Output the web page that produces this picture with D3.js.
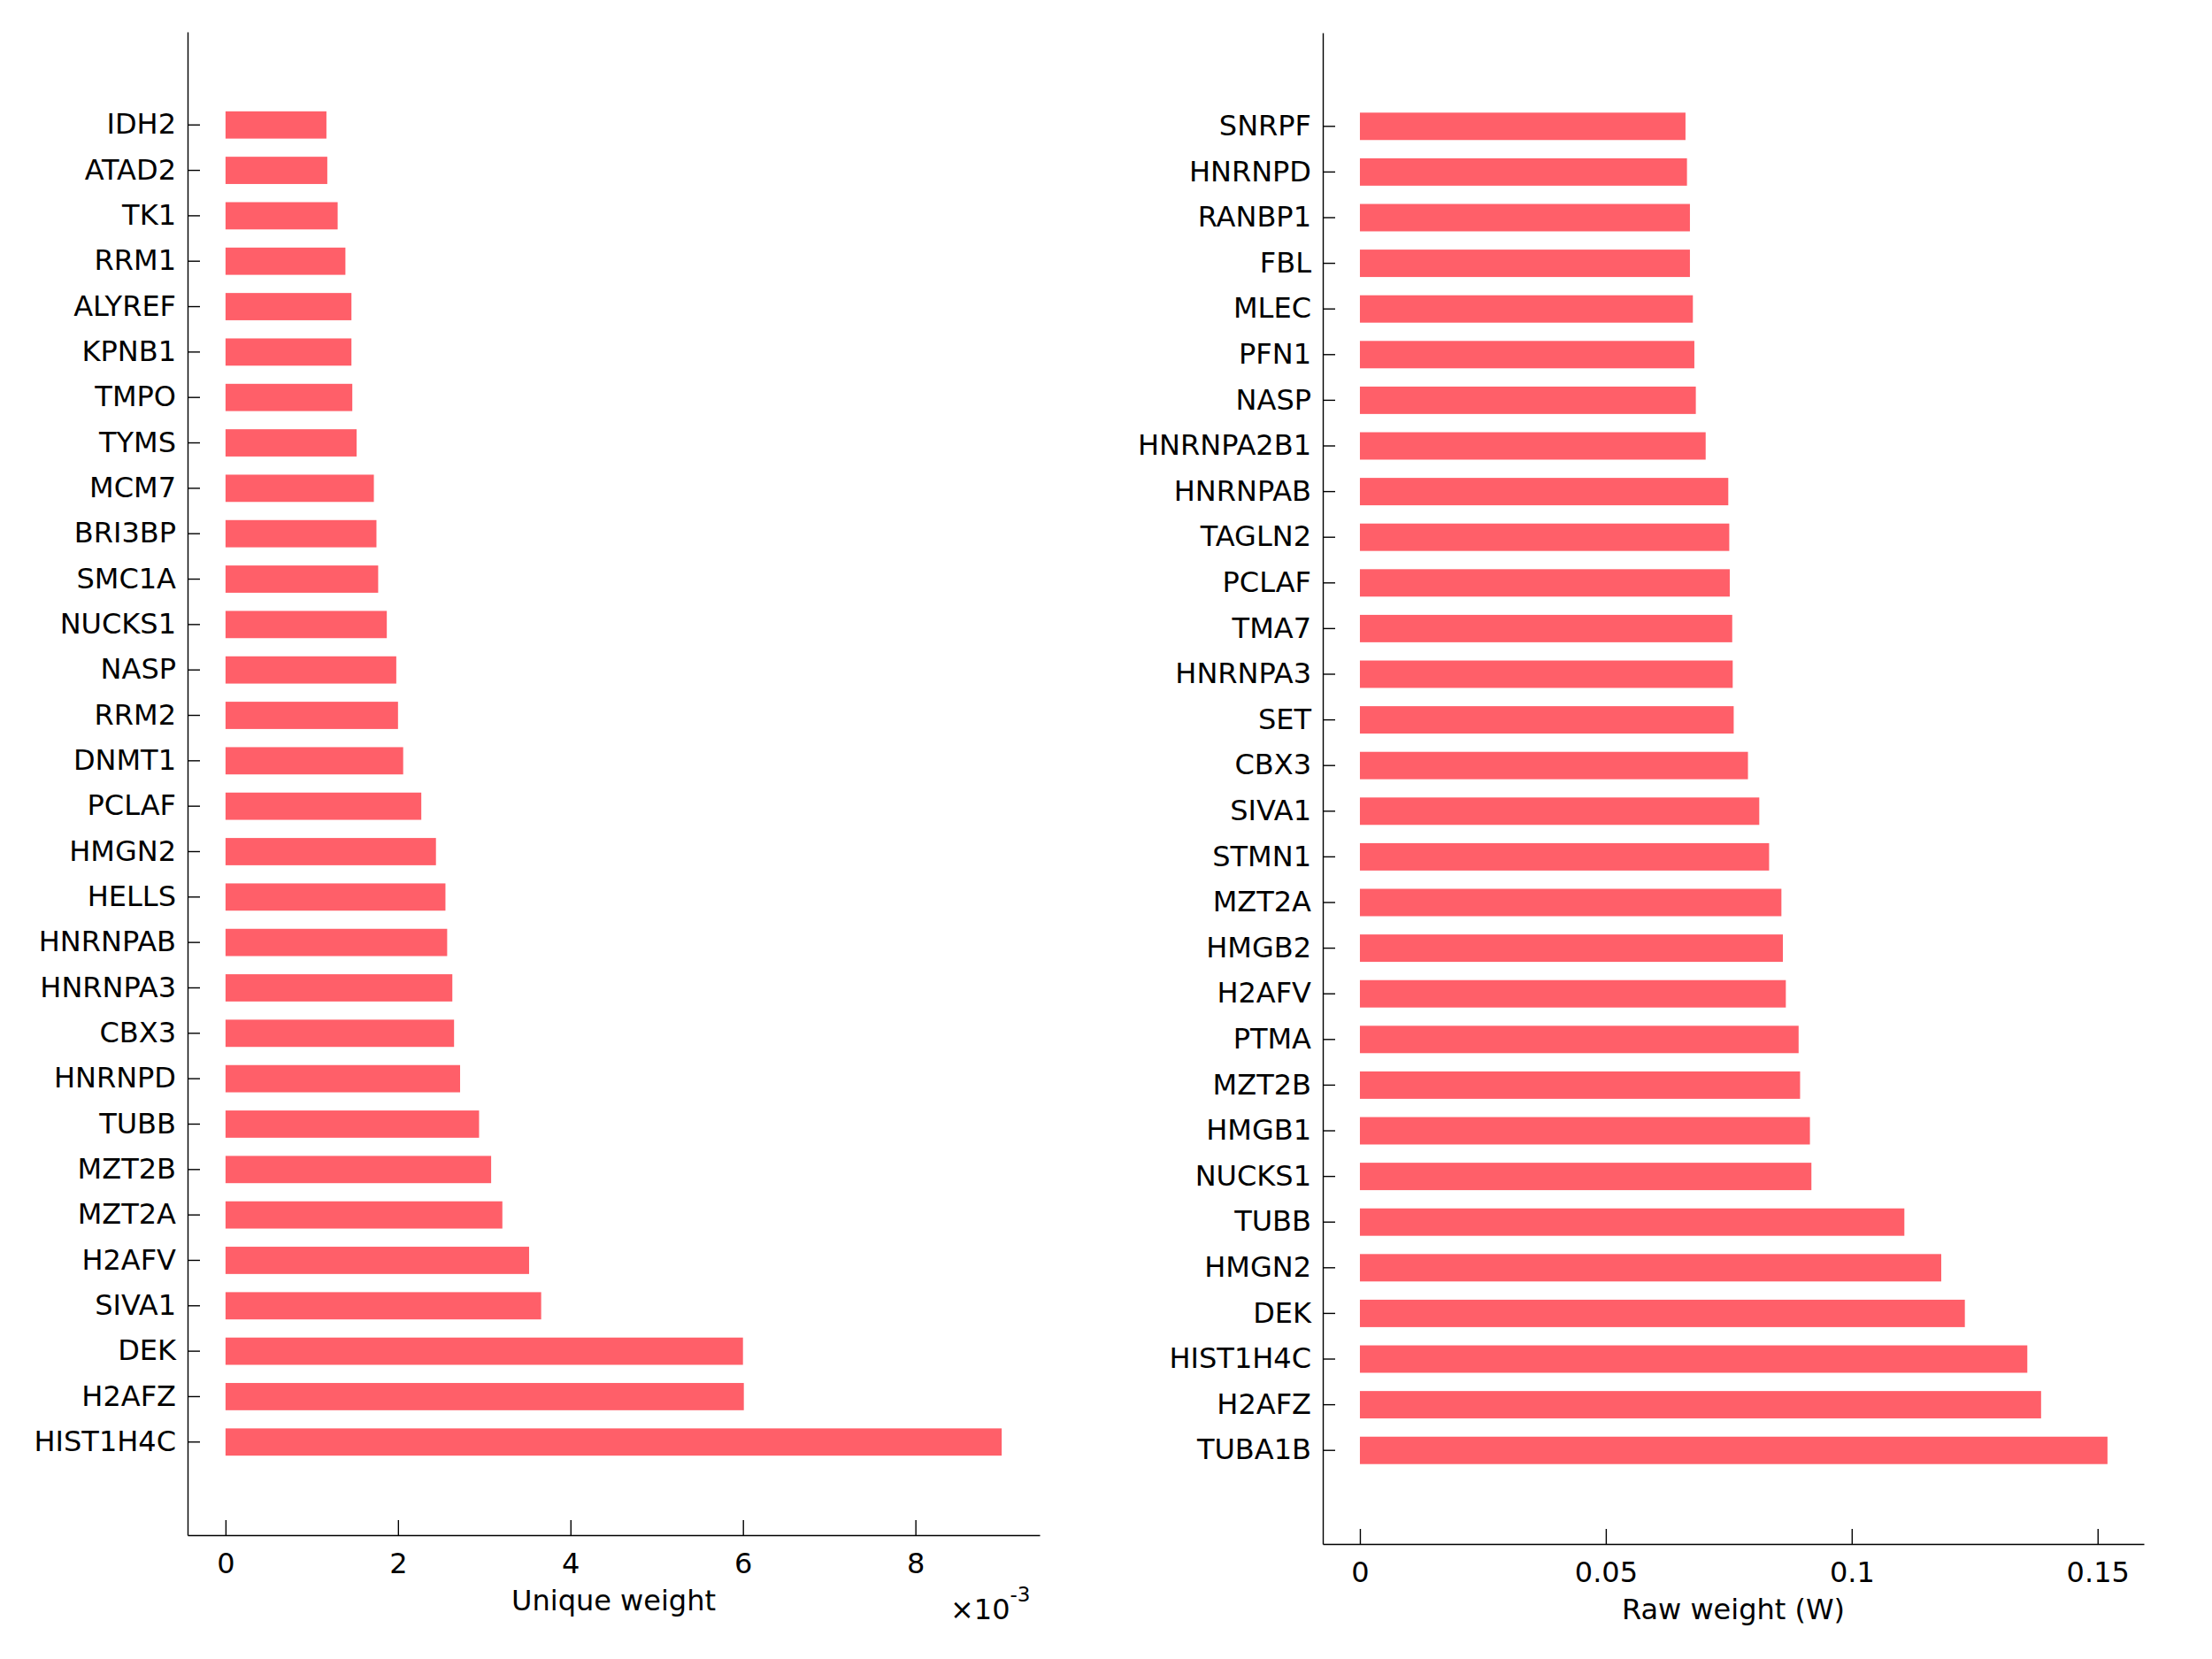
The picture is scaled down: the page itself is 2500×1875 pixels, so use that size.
<!DOCTYPE html>
<html>
<head>
<meta charset="utf-8">
<script src="https://cdn.jsdelivr.net/npm/d3@7"></script>
<style>
  html, body { margin: 0; padding: 0; background: #ffffff; }
  svg { display: block; }
  text { font-family: "DejaVu Sans", sans-serif; fill: #000; }
</style>
</head>
<body>
<svg id="chart" width="2500" height="1875"></svg>
<script>
// ---- Data (top-to-bottom order as displayed) ----
const uniqueGenes = ["IDH2","ATAD2","TK1","RRM1","ALYREF","KPNB1","TMPO","TYMS","MCM7","BRI3BP","SMC1A","NUCKS1","NASP","RRM2","DNMT1","PCLAF","HMGN2","HELLS","HNRNPAB","HNRNPA3","CBX3","HNRNPD","TUBB","MZT2B","MZT2A","H2AFV","SIVA1","DEK","H2AFZ","HIST1H4C"];
const uniqueValues = [1.17,1.18,1.30,1.39,1.46,1.46,1.47,1.52,1.72,1.75,1.77,1.87,1.98,2.00,2.06,2.27,2.44,2.55,2.57,2.63,2.65,2.72,2.94,3.08,3.21,3.52,3.66,6.00,6.01,9.00]; // x 1e-3
const uniqueTicks = [0, 2, 4, 6, 8];

const rawGenes = ["SNRPF","HNRNPD","RANBP1","FBL","MLEC","PFN1","NASP","HNRNPA2B1","HNRNPAB","TAGLN2","PCLAF","TMA7","HNRNPA3","SET","CBX3","SIVA1","STMN1","MZT2A","HMGB2","H2AFV","PTMA","MZT2B","HMGB1","NUCKS1","TUBB","HMGN2","DEK","HIST1H4C","H2AFZ","TUBA1B"];
const rawValues = [0.0662,0.0665,0.0671,0.0671,0.0677,0.0680,0.0683,0.0703,0.0749,0.0751,0.0752,0.0757,0.0758,0.0760,0.0789,0.0812,0.0832,0.0857,0.0860,0.0866,0.0892,0.0895,0.0915,0.0918,0.1107,0.1182,0.1230,0.1357,0.1385,0.1520];
const rawTicks = [0, 0.05, 0.1, 0.15];
const rawTickLabels = ["0", "0.05", "0.1", "0.15"];
</script>
<script>
const svg = d3.select("#chart");
const barColor = "#ff5f69";
const fontSize = 32;

function panel(opts) {
  const g = svg.append("g");
  const x = d3.scaleLinear().domain(opts.xDomain).range([opts.left, opts.right]);
  const y = d3.scaleBand().domain(opts.genes).range([opts.top, opts.bottom])
    .paddingInner(opts.padIn).paddingOuter(opts.padOut);

  g.selectAll("rect.bar").data(opts.genes).enter().append("rect")
    .attr("class", "bar")
    .attr("x", x(0))
    .attr("y", d => y(d))
    .attr("width", (d, i) => x(opts.values[i]) - x(0))
    .attr("height", y.bandwidth())
    .attr("fill", barColor);

  const yAxis = d3.axisLeft(y).tickSize(-14).tickSizeOuter(0).tickPadding(13);
  const gy = g.append("g").attr("transform", `translate(${opts.left},0)`).call(yAxis);
  gy.selectAll("text").style("font-size", fontSize + "px").style("font-family", "DejaVu Sans");

  const xAxis = d3.axisBottom(x).tickValues(opts.ticks).tickFormat((d, i) => opts.tickLabels[i])
    .tickSize(-17).tickSizeOuter(0).tickPadding(20);
  const gx = g.append("g").attr("transform", `translate(0,${opts.bottom})`).call(xAxis);
  gx.selectAll("text").style("font-size", fontSize + "px").style("font-family", "DejaVu Sans");

  [gx, gy].forEach(a => {
    a.selectAll("path.domain").attr("stroke", "#000").attr("stroke-width", 1.4);
    a.selectAll(".tick line").attr("stroke", "#000").attr("stroke-width", 1.4);
  });

  g.append("text")
    .attr("x", (opts.left + opts.right) / 2)
    .attr("y", opts.labelY)
    .attr("text-anchor", "middle")
    .style("font-size", fontSize + "px")
    .text(opts.xLabel);
  return {g, x, y};
}

const p1 = panel({
  genes: uniqueGenes, values: uniqueValues,
  xDomain: [-0.44, 9.44],
  left: 212, right: 1175, top: 36, bottom: 1735,
  padIn: 0.4, padOut: 1.75,
  ticks: uniqueTicks, tickLabels: uniqueTicks.map(String),
  xLabel: "Unique weight", labelY: 1820
});

// exponent annotation
const ex = svg.append("text").attr("x", 1074).attr("y", 1830).style("font-size", fontSize + "px");
ex.append("tspan").text("\u00d710");
ex.append("tspan").attr("dy", -20).style("font-size", "23px").text("-3");

const p2 = panel({
  genes: rawGenes, values: rawValues,
  xDomain: [-0.00755, 0.1594],
  left: 1495, right: 2423, top: 37, bottom: 1745,
  padIn: 0.4, padOut: 1.75,
  ticks: rawTicks, tickLabels: rawTickLabels,
  xLabel: "Raw weight (W)", labelY: 1830
});
</script>
</body>
</html>
